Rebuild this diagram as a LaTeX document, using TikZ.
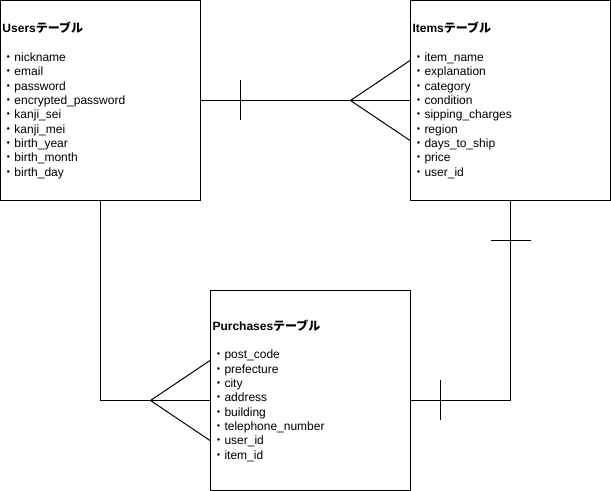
\documentclass[tikz,border=0pt]{standalone}
\usepackage{fontspec}
\setmainfont{Liberation Sans}
\newfontfamily\jp{Noto Sans CJK JP}
\begin{document}
\begin{tikzpicture}[x=0.75pt,y=-0.75pt,line width=0.75pt,
  tbl/.style={draw, line width=0.75pt, minimum width=150pt, minimum height=150pt,
    inner xsep=1.5pt, inner ysep=0pt, text width=147pt, align=left,
    font=\fontsize{9}{10.75}\selectfont},
  er/.style={draw, line width=0.75pt}]
\useasboundingbox (0,0) rectangle (611,491);
\node[tbl] (users) at (100.5,100.5) {\textbf{Users{\jp テーブル}}\\[10.75pt]
{\jp ・}nickname\\{\jp ・}email\\{\jp ・}password\\{\jp ・}encrypted\_password\\{\jp ・}kanji\_sei\\{\jp ・}kanji\_mei\\{\jp ・}birth\_year\\{\jp ・}birth\_month\\{\jp ・}birth\_day};
\node[tbl] (items) at (510.5,100.5) {\textbf{Items{\jp テーブル}}\\[10.75pt]
{\jp ・}item\_name\\{\jp ・}explanation\\{\jp ・}category\\{\jp ・}condition\\{\jp ・}sipping\_charges\\{\jp ・}region\\{\jp ・}days\_to\_ship\\{\jp ・}price\\{\jp ・}user\_id};
\node[tbl] (purch) at (310.5,390.5) {\textbf{Purchases{\jp テーブル}}\\[10.75pt]
{\jp ・}post\_code\\{\jp ・}prefecture\\{\jp ・}city\\{\jp ・}address\\{\jp ・}building\\{\jp ・}telephone\_number\\{\jp ・}user\_id\\{\jp ・}item\_id};
% Users - Items
\coordinate (ui) at (350.5,100.5);
\draw[er] (users.east) -- (items.west);
\draw[er] (240.5,80.5) -- (240.5,120.5);
\draw[er] (items.west |- 0,60.5) -- (ui) -- (items.west |- 0,140.5);
% Users - Purchases
\coordinate (pu) at (210.5,400.5);
\coordinate (up) at (150.5,400.5);
\draw[er] (users.south) |- (pu);
\draw[er] (purch.west |- 0,360.5) -- (up) -- (purch.west |- 0,440.5);
% Items - Purchases
\coordinate (pi) at (410.5,400.5);
\draw[er] (items.south) |- (pi);
\draw[er] (490.5,240.5) -- (530.5,240.5);
\draw[er] (440.5,380.5) -- (440.5,420.5);
\end{tikzpicture}
\end{document}
